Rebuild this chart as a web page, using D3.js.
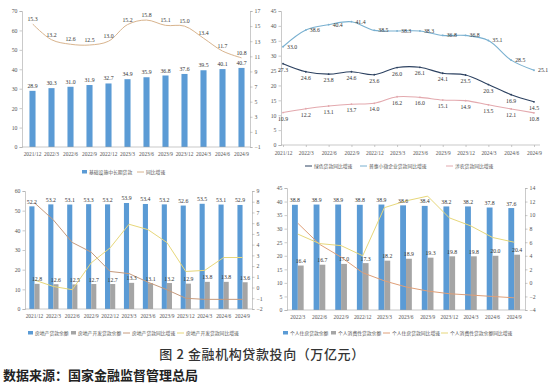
<!DOCTYPE html>
<html>
<head>
<meta charset="utf-8">
<script src="https://cdn.jsdelivr.net/npm/d3@7/dist/d3.min.js"></script>
<style>
  body { margin: 0; background: #fff; }
  svg { display: block; }
</style>
</head>
<body>
<div id="chart"></div>
<script>
// ---- data ----
var cats12 = ['2021/12','2022/3','2022/6','2022/9','2022/12','2023/3','2023/6','2023/9','2023/12','2024/3','2024/6','2024/9'];
var cats11 = cats12.slice(1);

// panel 1: infrastructure medium/long-term loans
var infraBalance = [28.9, 30.3, 31.0, 31.9, 32.7, 34.9, 35.9, 36.8, 37.6, 39.5, 40.1, 40.7];
var infraGrowth  = [15.3, 13.2, 12.6, 12.5, 13.0, 15.2, 15.8, 15.1, 15.0, 13.4, 11.7, 10.8];

// panel 2: growth rates
var greenGrowth     = [27.3, 24.6, 23.8, 24.6, 23.6, 26.0, 26.1, 24.1, 23.5, 20.3, 16.9, 14.5];
var inclusiveGrowth = [33.0, 38.6, 40.4, 41.4, 38.5, 38.3, 38.3, 36.8, 36.8, 35.1, 28.5, 25.1];
var agriGrowth      = [10.9, 12.2, 13.1, 13.7, 14.0, 16.2, 16.0, 15.1, 14.9, 13.5, 12.1, 10.8];

// panel 3: real estate
var reBalance    = [52.2, 53.2, 53.1, 53.3, 53.2, 53.9, 53.4, 53.2, 52.6, 53.5, 53.1, 52.9];
var reDevBalance = [12.8, 12.6, 12.5, 12.7, 12.7, 13.3, 13.1, 13.2, 12.9, 13.8, 13.8, 13.6];
var reGrowth     = [7.9, 6.3, 4.2, 3.3, 1.5, 1.3, 0.5, -0.2, -1.0, -1.1, -1.1, -1.1];
var reDevGrowth  = [0.7, 0.1, -0.2, 2.3, 3.7, 5.9, 5.4, 4.2, 1.5, 1.6, 2.8, 2.8];

// panel 4: personal loans
var houseBalance   = [38.8, 38.9, 38.9, 38.8, 38.9, 38.6, 38.4, 38.2, 38.2, 37.8, 37.6];
var consumeBalance = [16.4, 16.7, 17.0, 17.3, 18.2, 18.9, 19.3, 19.8, 19.8, 20.0, 20.4];
var houseGrowth    = [8.8, 5.7, 3.8, 1.5, 0.3, -0.6, -1.2, -1.6, -1.8, -2.0, -2.2];
var consumeGrowth  = [7.2, 5.8, 5.5, 4.0, 11.1, 12.1, 12.8, 9.6, 8.4, 6.7, 6.0];

var ticks0to70 = d3.range(0, 71, 10);
var ticksM1to17 = d3.range(-1, 18, 2);
var ticks0to45 = d3.range(0, 46, 5);
var ticks0to60 = d3.range(0, 61, 10);
var ticksM2to9 = d3.range(-2, 10, 1);
var ticksM4to14 = d3.range(-4, 15, 2);

var title = '图 2  金融机构贷款投向（万亿元）';
var source = '数据来源：国家金融监督管理总局';

// ---- styles ----
var NUM = '"Liberation Serif", "DejaVu Serif", serif';
var CJK = '"Noto Sans CJK SC", sans-serif';
var BLUE = '#5b9bd5', GRAY = '#a5a5a5', AXIS = '#a6a6a6', TXT = '#555';

var W = 550, H = 387;
var svg = d3.select('#chart').append('svg').attr('width', W).attr('height', H);

function styleAxis(g) {
  g.selectAll('path, line').attr('stroke', AXIS).attr('stroke-width', 0.6);
  g.selectAll('text').attr('font-family', NUM).attr('font-size', 5.8).attr('fill', TXT);
}

function yAxis(scale, x, side, ticks) {
  var ax = (side === 'left' ? d3.axisLeft(scale) : d3.axisRight(scale))
    .tickValues(ticks).tickSize(2.5).tickPadding(2).tickFormat(d3.format('d'));
  svg.append('g').attr('transform', 'translate(' + x + ',0)').call(ax).call(styleAxis);
}

function xAxis(scale, y, x0, x1) {
  var ax = d3.axisBottom(scale).tickSize(0).tickPadding(5);
  var g = svg.append('g').attr('transform', 'translate(0,' + y + ')').call(ax).call(styleAxis);
  g.select('.domain').remove();
  g.append('line').attr('x1', x0).attr('x2', x1).attr('stroke', AXIS).attr('stroke-width', 0.6);
  g.selectAll('text').attr('font-size', 5.4);
}

function labels(data, xf, yf, dy, anchor, dx) {
  svg.append('g').selectAll('text').data(data).join('text')
    .attr('x', function (d, i) { return xf(i) + (dx || 0); })
    .attr('y', function (d, i) { return yf(d) + dy; })
    .attr('text-anchor', anchor || 'middle')
    .attr('font-family', NUM).attr('font-size', 5.8).attr('fill', '#333')
    .text(function (d) { return d.toFixed(1); });
}

function line(data, xf, y, color, curve, width) {
  svg.append('path').datum(data)
    .attr('d', d3.line().x(function (d, i) { return xf(i); }).y(function (d) { return y(d); }).curve(curve || d3.curveLinear))
    .attr('fill', 'none').attr('stroke', color).attr('stroke-width', width || 1);
}

function legend(items, y) {
  var g = svg.append('g');
  items.forEach(function (it) {
    if (it.type === 'rect') {
      g.append('rect').attr('x', it.x).attr('y', y - 2).attr('width', 5).attr('height', 3.5).attr('fill', it.color);
    } else {
      g.append('line').attr('x1', it.x).attr('x2', it.x + 7).attr('y1', y).attr('y2', y)
        .attr('stroke', it.color).attr('stroke-width', 1);
    }
    g.append('text').attr('x', it.x + (it.type === 'rect' ? 7 : 9)).attr('y', y + 1.8)
      .attr('font-family', CJK).attr('font-size', 4.8).attr('fill', TXT).text(it.label);
  });
}

// ---- panel 1 ----
(function () {
  var x = d3.scaleBand().domain(cats12).range([23, 251]).paddingInner(0.68).paddingOuter(0.34);
  var yL = d3.scaleLinear().domain([0, 70]).range([147, 11]);
  var yR = d3.scaleLinear().domain([-1, 17]).range([147, 11]);
  var cx = function (i) { return x(cats12[i]) + x.bandwidth() / 2; };

  svg.append('g').selectAll('rect').data(infraBalance).join('rect')
    .attr('x', function (d, i) { return x(cats12[i]); })
    .attr('y', function (d) { return yL(d); })
    .attr('width', x.bandwidth())
    .attr('height', function (d) { return yL(0) - yL(d); })
    .attr('fill', BLUE);

  yAxis(yL, 22, 'left', ticks0to70);
  yAxis(yR, 250, 'right', ticksM1to17);
  xAxis(x, 147, 22, 250);

  line(infraGrowth, cx, yR, '#d8b48e', d3.curveCatmullRom.alpha(0.5), 1);
  labels(infraBalance, cx, yL, -3);
  labels(infraGrowth, cx, yR, -3);

  legend([
    { type: 'rect', x: 82, color: BLUE, label: '基础设施中长期贷款' },
    { type: 'line', x: 137, color: '#d8b48e', label: '同比增速' }
  ], 172);
})();

// ---- panel 2 ----
(function () {
  var x = d3.scalePoint().domain(cats12).range([283, 534]);
  var y = d3.scaleLinear().domain([0, 45]).range([145, 11]);
  var cx = function (i) { return x(cats12[i]); };

  yAxis(y, 281, 'left', ticks0to45);
  var ax = d3.axisBottom(x).tickSize(2).tickPadding(4);
  var g = svg.append('g').attr('transform', 'translate(0,145)').call(ax).call(styleAxis);
  g.select('.domain').remove();
  g.append('line').attr('x1', 281).attr('x2', 540).attr('stroke', AXIS).attr('stroke-width', 0.6);
  g.selectAll('text').attr('font-size', 5.4);

  var series = [
    { data: inclusiveGrowth, color: '#79b0d0', dy: 2, dx: 4, anchor: 'start' },
    { data: greenGrowth, color: '#2d4261', dy: 8, dx: 0, anchor: 'middle' },
    { data: agriGrowth, color: '#e3a9ae', dy: 8, dx: 0, anchor: 'middle' }
  ];
  series.forEach(function (s) {
    line(s.data, cx, y, s.color, d3.curveCatmullRom.alpha(0.5), 1.1);
    svg.append('g').selectAll('circle').data(s.data).join('circle')
      .attr('cx', function (d, i) { return cx(i); }).attr('cy', function (d) { return y(d); })
      .attr('r', 0.9).attr('fill', s.color);
    labels(s.data, cx, y, s.dy, s.anchor, s.dx);
  });

  legend([
    { type: 'line', x: 305, color: '#2d4261', label: '绿色贷款同比增速' },
    { type: 'line', x: 360, color: '#79b0d0', label: '普惠小微企业贷款同比增速' },
    { type: 'line', x: 446, color: '#e3a9ae', label: '涉农贷款同比增速' }
  ], 166);
})();

// ---- bar + line panels (3 and 4) ----
function comboPanel(cats, range, yLdom, yRdom, top, bottom, tL, tR, bars1, bars2, lines, legendItems) {
  var x = d3.scaleBand().domain(cats).range(range).paddingInner(0.46).paddingOuter(0.23);
  var yL = d3.scaleLinear().domain(yLdom).range([bottom, top]);
  var yR = d3.scaleLinear().domain(yRdom).range([bottom, top]);
  var bw = x.bandwidth() / 2;
  var c1 = function (i) { return x(cats[i]) + bw / 2; };
  var c2 = function (i) { return x(cats[i]) + bw * 1.5; };
  var cx = function (i) { return x(cats[i]) + bw; };

  [[bars1, BLUE, 0], [bars2, GRAY, 1]].forEach(function (b) {
    svg.append('g').selectAll('rect').data(b[0]).join('rect')
      .attr('x', function (d, i) { return x(cats[i]) + b[2] * bw; })
      .attr('y', function (d) { return yL(d); })
      .attr('width', bw)
      .attr('height', function (d) { return yL(0) - yL(d); })
      .attr('fill', b[1]);
  });

  yAxis(yL, range[0], 'left', tL);
  yAxis(yR, range[1], 'right', tR);
  xAxis(x, bottom, range[0], range[1]);

  lines.forEach(function (l) { line(l.data, cx, yR, l.color, d3.curveLinear, 1); });
  labels(bars1, c1, yL, -2.5);
  labels(bars2, c2, yL, -2.5);
  legend(legendItems, 333);
}

comboPanel(cats12, [25, 252], [0, 60], [-2, 9], 191, 309, ticks0to60, ticksM2to9,
  reBalance, reDevBalance,
  [{ data: reGrowth, color: '#c69a7c' }, { data: reDevGrowth, color: '#e7d77a' }],
  [
    { type: 'rect', x: 28, color: BLUE, label: '房地产贷款余额' },
    { type: 'rect', x: 71, color: GRAY, label: '房地产开发贷款余额' },
    { type: 'line', x: 123, color: '#c69a7c', label: '房地产贷款同比增速' },
    { type: 'line', x: 177, color: '#e7d77a', label: '房地产开发贷款同比增速' }
  ]);

comboPanel(cats11, [287, 525], [0, 45], [-4, 14], 188, 310, ticks0to45, ticksM4to14,
  houseBalance, consumeBalance,
  [{ data: houseGrowth, color: '#df9f78' }, { data: consumeGrowth, color: '#e7d77a' }],
  [
    { type: 'rect', x: 283, color: BLUE, label: '个人住房贷款余额' },
    { type: 'rect', x: 331, color: GRAY, label: '个人消费性贷款余额' },
    { type: 'line', x: 383, color: '#df9f78', label: '个人住房贷款同比增速' },
    { type: 'line', x: 441, color: '#e7d77a', label: '个人消费性贷款余额同比增速' }
  ]);

// ---- title and source ----
svg.append('text').attr('x', 262).attr('y', 359).attr('text-anchor', 'middle')
  .attr('font-family', CJK).attr('font-size', 13).attr('font-weight', 500).attr('fill', '#333')
  .attr('letter-spacing', 0.6)
  .text(title);
svg.append('text').attr('x', 3).attr('y', 380)
  .attr('font-family', CJK).attr('font-size', 13).attr('font-weight', 700).attr('fill', '#222')
  .text(source);
</script>
</body>
</html>
